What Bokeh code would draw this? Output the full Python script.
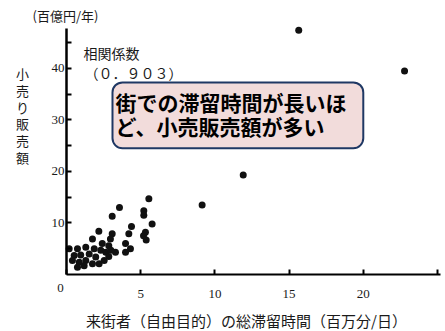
from bokeh.plotting import figure
from bokeh.models import Range1d, FixedTicker, Label, BoxAnnotation
from bokeh.embed import file_html
from bokeh.resources import INLINE

# ---- data ----
stay_time = [15.65, 22.78, 11.91, 9.14, 5.55, 3.57, 3.08, 5.21, 5.21, 5.77,
             4.38, 4.20, 5.32, 5.19, 5.37, 2.18, 3.08, 2.96, 3.98, 4.31,
             3.98, 3.30, 2.85, 2.41, 1.75, 0.74, 1.30, 1.87, 2.31, 0.52,
             0.96, 1.53, 1.97, 0.40, 0.86, 1.30, 1.75, 2.20, 2.54, 0.74,
             1.19, 2.65, 2.99, 2.85, 0.18]
retail_sales = [47.4, 39.5, 19.3, 13.5, 14.7, 13.0, 11.3, 12.4, 11.5, 9.8,
                9.3, 7.9, 8.2, 7.5, 6.7, 8.4, 7.9, 6.9, 6.0, 5.0,
                4.3, 4.3, 5.6, 6.0, 6.9, 5.0, 5.3, 5.0, 4.7, 3.7,
                3.8, 4.0, 3.4, 2.7, 2.4, 2.7, 2.1, 2.1, 2.7, 1.4,
                1.7, 4.3, 4.7, 3.5, 5.0]
x_ticks = [0, 5, 10, 15, 20, 25]
x_tick_labels = ["", "5", "10", "15", "20", ""]
y_ticks = [5, 10, 15, 20, 25, 30, 35, 40, 45]
y_tick_labels = ["", "10", "", "20", "", "30", "", "40", ""]
y_unit = "(百億円/年)"
y_label = "小売り販売額"
x_label = "来街者（自由目的）の総滞留時間（百万分/日）"
corr_title = "相関係数"
corr_value = "（０．９０３）"
callout_lines = ["街での滞留時間が長いほ", "ど、小売販売額が多い"]

CJK = "Noto Sans CJK JP"
NUM = "Liberation Serif"
INK = "#1a1a1a"

# frame covers the whole canvas; axes sit at fixed data locations
p = figure(width=445, height=331, x_range=Range1d(-4.447, 25.54), y_range=Range1d(-11.07, 53.2),
           output_backend="svg", toolbar_location=None, min_border=0)
p.title.visible = False
p.outline_line_color = None
p.grid.visible = False
p.background_fill_color = "white"
p.border_fill_color = "white"

p.xaxis.fixed_location = 0
p.yaxis.fixed_location = 0
p.xaxis.bounds = (0, 25.2)
p.yaxis.bounds = (0, 47.8)

for ax, ticks, labels, lw in ((p.xaxis[0], x_ticks, x_tick_labels, 2),
                              (p.yaxis[0], y_ticks, y_tick_labels, 2.5)):
    ax.ticker = FixedTicker(ticks=ticks)
    ax.major_label_overrides = {t: l for t, l in zip(ticks, labels)}
    ax.axis_line_width = lw
    ax.axis_line_color = "black"
    ax.major_tick_in = 5
    ax.major_tick_out = 0
    ax.major_tick_line_width = 2
    ax.major_tick_line_color = "black"
    ax.minor_tick_line_color = None
    ax.major_label_text_font = NUM
    ax.major_label_text_font_size = "13px"
    ax.major_label_text_color = INK
p.xaxis.major_label_standoff = 16
p.yaxis.major_label_standoff = 2

p.scatter(stay_time, retail_sales, size=7, color="#111111", line_color=None)

# origin label
p.add_layout(Label(x=-0.4, y=-2.72, text="0", text_font=NUM, text_font_size="13px",
                   text_color=INK, text_align="center", text_baseline="middle"))

# unit label
p.add_layout(Label(x=-2.29, y=50.3, text=y_unit, text_font=CJK, text_font_size="13px",
                   text_color=INK, text_align="left", text_baseline="middle"))

# vertical y label, one character per line
y_pos = [39.0, 35.7, 32.4, 29.3, 26.0, 22.7]
for ch, yy in zip(y_label, y_pos):
    p.add_layout(Label(x=-2.96, y=yy, text=ch, text_font=CJK, text_font_size="13px",
                       text_color=INK, text_align="center", text_baseline="middle"))

# correlation
p.add_layout(Label(x=1.15, y=43.1, text=corr_title, text_font=CJK, text_font_size="14px",
                   text_color=INK, text_align="left", text_baseline="middle"))
p.add_layout(Label(x=1.21, y=39.2, text=corr_value, text_font=CJK, text_font_size="14px",
                   text_color=INK, text_align="left", text_baseline="middle"))

# callout box
p.add_layout(BoxAnnotation(left=3.1, right=20.0, top=37.3, bottom=24.5,
                           fill_color="#f2dcdb", fill_alpha=1.0,
                           line_color="#1f3864", line_alpha=1.0, line_width=2,
                           border_radius=10))
for txt, yy in zip(callout_lines, [33.4, 28.9]):
    p.add_layout(Label(x=3.3, y=yy, text=txt, text_font=CJK, text_font_size="21px",
                       text_font_style="bold", text_color="black",
                       text_align="left", text_baseline="middle"))

# x axis label
p.add_layout(Label(x=12.13, y=-8.93, text=x_label, text_font=CJK, text_font_size="15px",
                   text_color=INK, text_align="center", text_baseline="middle"))

open("out.html", "w").write(file_html(p, INLINE))
